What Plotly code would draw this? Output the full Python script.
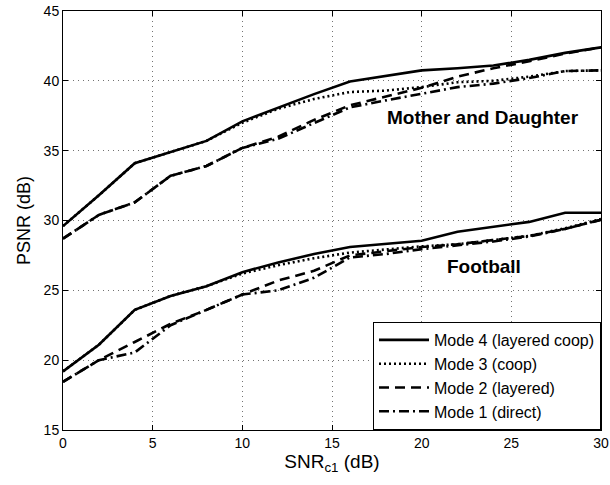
import plotly.graph_objects as go

snr = [0, 2, 4, 6, 8, 10, 12, 14, 16, 18, 20, 22, 24, 26, 28, 30]

# Mother and Daughter
md_mode4 = [29.6, 31.8, 34.1, 34.9, 35.7, 37.1, 38.1, 39.05, 39.95, 40.35, 40.75, 40.9, 41.1, 41.5, 42.0, 42.4]
md_mode3 = [29.6, 31.8, 34.1, 34.9, 35.7, 37.0, 38.0, 38.7, 39.2, 39.3, 39.55, 39.9, 40.0, 40.3, 40.7, 40.75]
md_mode2 = [28.7, 30.4, 31.3, 33.2, 33.9, 35.2, 36.0, 37.2, 38.25, 38.9, 39.5, 40.3, 40.9, 41.4, 41.95, 42.4]
md_mode1 = [28.7, 30.4, 31.3, 33.2, 33.9, 35.2, 35.85, 37.0, 38.1, 38.6, 39.1, 39.55, 39.8, 40.2, 40.7, 40.75]

# Football
fb_mode4 = [19.2, 21.1, 23.6, 24.6, 25.3, 26.3, 27.0, 27.6, 28.1, 28.35, 28.55, 29.2, 29.55, 29.9, 30.55, 30.55]
fb_mode3 = [19.2, 21.1, 23.6, 24.6, 25.3, 26.2, 26.8, 27.3, 27.7, 27.95, 28.15, 28.3, 28.6, 28.9, 29.45, 30.1]
fb_mode2 = [18.45, 20.0, 21.3, 22.6, 23.6, 24.7, 25.7, 26.4, 27.5, 27.8, 28.1, 28.3, 28.6, 28.9, 29.4, 30.05]
fb_mode1 = [18.45, 20.0, 20.55, 22.5, 23.6, 24.7, 25.0, 25.9, 27.35, 27.6, 27.95, 28.2, 28.5, 28.85, 29.4, 30.05]

x_ticks = [0, 5, 10, 15, 20, 25, 30]
y_ticks = [15, 20, 25, 30, 35, 40, 45]

modes = [
    ("Mode 4 (layered coop)", md_mode4, fb_mode4, "solid"),
    ("Mode 3 (coop)", md_mode3, fb_mode3, "2px,3px"),
    ("Mode 2 (layered)", md_mode2, fb_mode2, "10px,6px"),
    ("Mode 1 (direct)", md_mode1, fb_mode1, "10px,4px,2px,4px"),
]

FONT = "Liberation Sans"

fig = go.Figure()
for name, md, fb, dash in modes:
    for i, ys in enumerate([md, fb]):
        fig.add_trace(go.Scatter(
            x=snr, y=ys, mode="lines", name=name,
            legendgroup=name, showlegend=(i == 0),
            line=dict(color="black", width=2.6, dash=dash),
        ))

fig.add_annotation(x=23.4, y=37.4, text="<b>Mother and Daughter</b>", showarrow=False,
                   font=dict(size=19, color="black", family=FONT))
fig.add_annotation(x=23.5, y=26.7, text="<b>Football</b>", showarrow=False,
                   font=dict(size=19, color="black", family=FONT))

axis_common = dict(
    showline=True, linecolor="black", linewidth=1, mirror="ticks",
    ticks="inside", ticklen=5, tickcolor="black", automargin=False,
    showgrid=True, gridcolor="rgba(0,0,0,0.55)", griddash="1px,4px", gridwidth=1,
    zeroline=False, tickfont=dict(size=14, color="black", family=FONT),
)

fig.update_xaxes(range=[0, 30], tickvals=x_ticks, ticktext=[str(v) for v in x_ticks],
                 title=dict(text="SNR<sub>c1</sub> (dB)", font=dict(size=19, color="black", family=FONT), standoff=4),
                 **axis_common)
fig.update_yaxes(range=[15, 45], tickvals=y_ticks, ticktext=[str(v) for v in y_ticks],
                 title=dict(text="PSNR (dB)", font=dict(size=18, color="black", family=FONT), standoff=8),
                 **axis_common)

fig.update_layout(
    width=610, height=485,
    margin=dict(l=63, r=9, t=11, b=55),
    plot_bgcolor="white", paper_bgcolor="white",
    font=dict(family=FONT, color="black"),
    legend=dict(x=1, y=0, xanchor="right", yanchor="bottom",
                bordercolor="black", borderwidth=1, bgcolor="white",
                font=dict(size=16, color="black", family=FONT),
                itemwidth=50, tracegroupgap=0),
)

fig.write_html("out.html", config={"displayModeBar": False},
               post_script="document.body.style.margin='0';document.body.style.overflow='hidden';")
